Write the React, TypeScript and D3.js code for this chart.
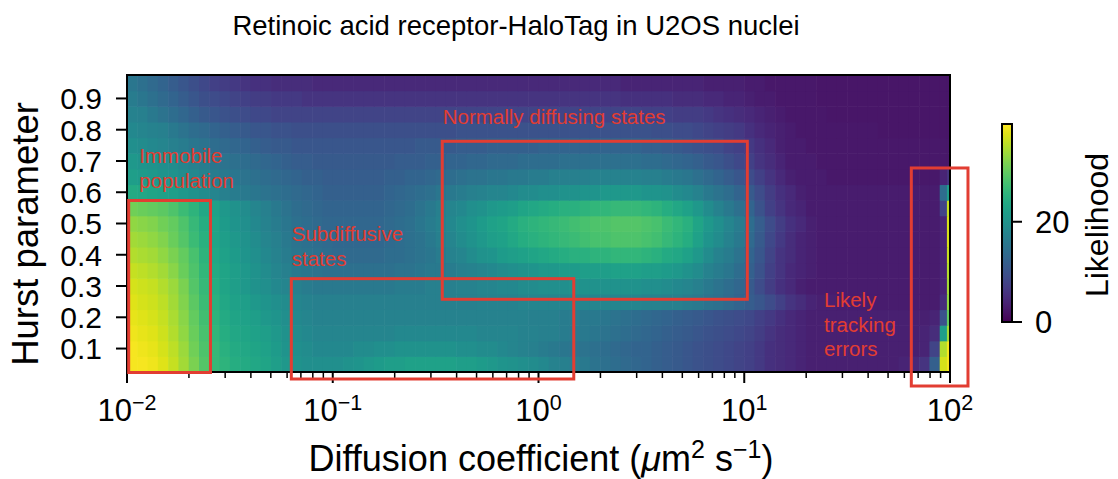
import React from 'react';
import * as d3 from 'd3';

// Hurst parameter of each heatmap row (bin width 0.05)
const hurst = [0.05, 0.1, 0.15, 0.2, 0.25, 0.3, 0.35, 0.4, 0.45, 0.5, 0.55, 0.6, 0.65, 0.7, 0.75, 0.8, 0.85, 0.9, 0.95];
const hurstHalfBin = 0.025;

// log10 of diffusion-coefficient bin edges (µm² s⁻¹); the last bin is split finer at the edge
const logDEdges = [...d3.range(80).map((i) => -2 + i * 0.05), 1.985, 2];

// Likelihood per (Hurst row, diffusion-coefficient column)
const rowH05 = [39, 39, 38.5, 37.5, 36, 34, 31.5, 29, 26.5, 25.5, 24.5, 24, 23.5, 23, 22, 21, 20, 19.5, 19.5, 19.5, 19.5, 20, 20.5, 21, 21.5, 22, 22, 22.5, 22.5, 22.5, 22.5, 22.5, 22, 22, 21.5, 21, 20.5, 20, 19.5, 19, 18.5, 17.5, 17, 16.5, 16, 15, 14.5, 14, 13.5, 13, 12.5, 12, 11.5, 11, 10.5, 10, 9.5, 9, 8.5, 8, 7.5, 6.5, 5.5, 5, 4.5, 4, 3.5, 3.5, 3.5, 3.5, 3.5, 3.5, 3.5, 3.5, 3.5, 4, 4.5, 6, 12, 37, 39];
const rowH10 = [39, 38.5, 38, 37, 35.5, 33.5, 31, 28.5, 26.5, 25, 24, 23.5, 23, 22.5, 21.5, 20.5, 19.5, 19, 18.5, 18.5, 18.5, 18.5, 19, 19, 19.5, 19.5, 20, 20, 20, 20, 20, 20, 19.5, 19.5, 19, 19, 18.5, 18, 17.5, 17, 16.5, 16, 15.5, 15, 15, 14.5, 14, 13.5, 13, 12.5, 12.5, 12, 11.5, 11, 10.5, 10, 9.5, 9, 8.5, 8, 7.5, 6.5, 5.5, 5, 4.5, 4, 3.5, 3.5, 3.5, 3.5, 3.5, 3.5, 3.5, 3.5, 3.5, 3.5, 3.5, 4, 8, 35, 39];
const rowH15 = [38.5, 38, 37.5, 36.5, 35, 33, 30.5, 28, 26, 24.5, 23.5, 23, 22.5, 22, 21, 20, 19, 18.5, 18, 18, 18, 18, 18, 18, 18, 18, 18.5, 18.5, 18.5, 18.5, 18.5, 18.5, 18.5, 18.5, 18, 18, 18, 18, 17.5, 17.5, 17, 17, 16.5, 16, 16, 15.5, 15, 14.5, 14, 13.5, 13, 12.5, 12, 11.5, 11, 10.5, 10, 9.5, 9, 8.5, 8, 7, 6, 5, 4.5, 4, 3.5, 3.5, 3.5, 3.5, 3.5, 3.5, 3.5, 3.5, 3.5, 3.5, 3.5, 4, 5, 22, 34];
const rowH20 = [38, 37.5, 37, 36, 34.5, 32.5, 30, 27.5, 25.5, 24, 23, 22.5, 22, 21, 20.5, 19.5, 18.5, 18, 17.5, 17.5, 17.5, 17.5, 17.5, 17.5, 17.5, 17.5, 17.5, 17.5, 17.5, 17.5, 17.5, 17.5, 17.5, 17.5, 17.5, 17.5, 17.5, 17.5, 17.5, 17, 17, 17, 16.5, 16.5, 16, 16, 15.5, 15, 14.5, 14, 13.5, 13, 12.5, 12, 11.5, 11, 10.5, 10, 9.5, 9, 8.5, 7.5, 6.5, 5.5, 4.5, 4, 3.5, 3.5, 3.5, 3.5, 3.5, 3.5, 3.5, 3.5, 3.5, 3.5, 3.5, 3.5, 4, 10, 30];
const rowH25 = [37.5, 37, 36.5, 35.5, 34, 32, 29.5, 27, 25, 23.5, 22.5, 22, 21, 20.5, 19.5, 19, 18, 17.5, 17, 17, 17, 17, 17, 17, 17, 17, 17, 17, 17, 17, 17, 17, 17, 17, 17.5, 17.5, 17.5, 17.5, 18, 18, 18, 18, 18, 18, 18, 18, 18, 18, 18, 18, 17.5, 17.5, 17, 17, 16.5, 16, 15, 14.5, 13.5, 12.5, 11.5, 10.5, 9, 7.5, 6, 5, 4, 3.5, 3.5, 3, 3, 3, 3, 3, 3, 3, 3, 3, 3, 5, 33];
const rowH30 = [37, 36.5, 36, 35, 33.5, 31.5, 29, 26.5, 24.5, 23, 22, 21, 20, 19.5, 18.5, 18, 17, 16.5, 16, 16, 16, 16, 16, 16, 16, 16, 16.5, 16.5, 16.5, 17, 17, 17, 17.5, 17.5, 18, 18, 18.5, 18.5, 19, 19, 19.5, 19.5, 19.5, 20, 20, 20, 20, 20, 20, 20, 19.5, 19.5, 19, 18.5, 18, 17, 16, 15, 14, 13, 11, 9, 7, 5.5, 4.5, 3.5, 3, 3, 3, 3, 3, 3, 3, 3, 3, 3, 3, 3, 3, 4, 34];
const rowH35 = [36, 35.5, 35, 34, 32.5, 30.5, 28.5, 26, 24, 23, 22, 21, 20, 19, 18, 17, 16, 15.5, 15, 14.5, 14.5, 14.5, 14.5, 14.5, 14.5, 14.5, 15, 15, 15.5, 16, 16, 16.5, 17, 17.5, 18, 18.5, 19, 19.5, 20, 20.5, 21, 21, 21.5, 21.5, 22, 22, 22, 22.5, 22.5, 22.5, 22, 22, 21.5, 21, 20, 19, 17.5, 16.5, 15.5, 14, 12, 10, 7.5, 6, 4.5, 4, 3.5, 3, 3, 3, 3, 3, 3, 3, 3, 3, 3, 3, 3, 4, 35];
const rowH40 = [35, 34.5, 34, 33, 31.5, 30, 28, 25.5, 23.5, 22.5, 21.5, 20.5, 19.5, 18.5, 17.5, 16.5, 15.5, 15, 14.5, 14, 13.5, 13.5, 13.5, 13.5, 13.5, 14, 14, 14.5, 15, 15.5, 16.5, 17.5, 18, 19, 20, 20.5, 21.5, 22, 22.5, 23, 23.5, 24, 24.5, 25, 25, 25.5, 25.5, 26, 26, 26, 25.5, 25, 24, 23.5, 22.5, 21, 19, 17.5, 16.5, 15, 12.5, 10.5, 8, 6, 5, 4, 3.5, 3, 3, 3, 3, 3, 3, 3, 3, 3, 3, 3, 3, 4, 36];
const rowH45 = [34, 33.5, 33, 32, 30.5, 29, 27, 25, 23, 22, 21, 20, 19, 18, 17, 16, 15, 14.5, 14, 13.5, 13, 13, 13, 13, 13, 13.5, 14, 14.5, 15, 16, 17, 18, 19, 20, 21, 22, 22.5, 23.5, 24.5, 25, 25.5, 26, 26.5, 27, 27.5, 28, 28, 28.5, 28.5, 28.5, 28, 27.5, 26.5, 25.5, 24.5, 22.5, 20.5, 19, 17.5, 16, 13.5, 11, 8.5, 6.5, 5, 4, 3.5, 3, 3, 3, 3, 3, 3, 3, 3, 3, 3, 3, 3, 4, 37];
const rowH50 = [33, 32.5, 32, 31, 30, 28.5, 26.5, 24.5, 23, 21.5, 20.5, 19.5, 18.5, 17.5, 16.5, 15.5, 14.5, 14, 13.5, 13, 13, 13, 13, 13, 13, 13.5, 14, 14.5, 15.5, 16.5, 17.5, 18.5, 19.5, 20.5, 21.5, 22.5, 23, 24, 25, 25.5, 26, 26.5, 27, 27.5, 28, 28.5, 28.5, 29, 29, 29, 28.5, 28, 27, 26, 25, 23, 21, 19.5, 18, 16.5, 14, 11.5, 9, 7, 5.5, 4.5, 3.5, 3, 3, 3, 3, 3, 3, 3, 3, 3, 3, 3, 3, 4, 37];
const rowH55 = [31, 30.5, 30, 29.5, 28.5, 27, 25.5, 23.5, 22.5, 21, 20, 19, 18, 17, 16, 15, 14, 13.5, 13, 12.5, 12.5, 12.5, 12.5, 12.5, 12.5, 13, 13.5, 14, 15, 16, 17, 18, 18.5, 19.5, 20, 21, 21.5, 22, 23, 23.5, 24, 24.5, 25, 25, 25.5, 26, 26, 26.5, 26.5, 26.5, 26, 25.5, 24.5, 23.5, 22.5, 21, 19, 17.5, 16, 14.5, 12.5, 10, 7.5, 6, 4.5, 4, 3, 3, 3, 3, 3, 3, 3, 3, 3, 3, 3, 3, 3, 8, 36];
const rowH60 = [24, 23.5, 23, 22.5, 22, 21, 20, 19, 18, 17, 16.5, 16, 15.5, 15, 14.5, 14, 13.5, 13, 12.5, 12, 12, 12, 12, 12, 12, 12.5, 13, 13.5, 14, 14.5, 15.5, 16, 16.5, 17, 17.5, 18, 18, 18.5, 19, 19, 19.5, 19.5, 20, 20, 20.5, 20.5, 21, 21, 21, 21, 20.5, 20.5, 20, 19, 18.5, 17.5, 16, 15, 14, 12.5, 11, 9, 7, 5.5, 4.5, 3.5, 3, 3, 3, 3, 3, 3, 3, 3, 3, 3, 3, 3, 3, 14, 22];
const rowH65 = [22, 21.5, 21, 20.5, 20, 19, 18.5, 17.5, 16.5, 16, 15.5, 15, 14.5, 14, 13.5, 13, 12.5, 12, 12, 11.5, 11.5, 11.5, 11.5, 11.5, 11.5, 12, 12, 12.5, 12.5, 13, 13.5, 14, 14.5, 15, 15, 15.5, 15.5, 16, 16, 16.5, 16.5, 17, 17, 17, 17, 17.5, 17.5, 17.5, 17.5, 17.5, 17, 17, 16.5, 16, 15.5, 14.5, 13.5, 12.5, 11.5, 10.5, 9, 7.5, 6, 4.5, 3.5, 3, 3, 3, 2.5, 2.5, 2.5, 2.5, 2.5, 2.5, 2.5, 2.5, 2.5, 2.5, 2.5, 4, 6];
const rowH70 = [21, 20.5, 20, 19.5, 19, 18, 17, 16.5, 15.5, 15, 14.5, 14, 13.5, 13, 12.5, 12, 11.5, 11.5, 11, 11, 11, 11, 11, 11, 11, 11, 11.5, 11.5, 11.5, 12, 12, 12.5, 12.5, 13, 13, 13.5, 13.5, 13.5, 14, 14, 14, 14, 14.5, 14.5, 14.5, 14.5, 14.5, 14.5, 14.5, 14.5, 14, 14, 13.5, 13, 12.5, 12, 11, 10.5, 9.5, 8.5, 7.5, 6, 5, 4, 3, 3, 3, 2.5, 2.5, 2.5, 2.5, 2.5, 2.5, 2.5, 2.5, 2.5, 2.5, 2.5, 2.5, 2.5, 2.5];
const rowH75 = [19.5, 19, 18.5, 18, 17, 16.5, 15.5, 15, 14, 13.5, 13, 12.5, 12, 11.5, 11, 11, 10.5, 10.5, 10.5, 10.5, 10.5, 10.5, 10.5, 10.5, 10.5, 10.5, 10.5, 10.5, 11, 11, 11, 11, 11.5, 11.5, 11.5, 12, 12, 12, 12, 12, 12.5, 12.5, 12.5, 12.5, 12.5, 12.5, 12.5, 12.5, 12.5, 12.5, 12, 12, 11.5, 11, 10.5, 10, 9.5, 9, 8, 7.5, 6.5, 5.5, 4.5, 3.5, 3, 3, 2.5, 2.5, 2.5, 2.5, 2.5, 2.5, 2.5, 2.5, 2.5, 2.5, 2.5, 2.5, 2.5, 2.5, 2.5];
const rowH80 = [18.5, 18, 17.5, 17, 16, 15, 14, 13.5, 12.5, 12, 11.5, 11, 10.5, 10.5, 10, 10, 9.5, 9.5, 9.5, 9.5, 9.5, 9.5, 9.5, 9.5, 9.5, 9.5, 9.5, 9.5, 9.5, 9.5, 9.5, 9.5, 10, 10, 10, 10, 10, 10, 10, 10, 10, 10, 10, 10, 10, 10, 10, 10, 10, 10, 10, 9.5, 9.5, 9, 9, 8.5, 8, 7.5, 7, 6.5, 5.5, 4.5, 4, 3.5, 3, 2.5, 2.5, 2.5, 2.5, 2.5, 2.5, 2.5, 2.5, 2.2, 2.2, 2.2, 2.2, 2.2, 2.2, 2.2, 2.2];
const rowH85 = [17.5, 17, 16, 15, 14, 13, 12, 11, 10.5, 10, 9.5, 9, 8.5, 8.5, 8, 8, 8, 8, 8, 8, 8, 8, 8, 8, 8, 8, 8, 8, 8, 8, 8, 8, 8, 8, 8, 8, 8, 8, 8, 8, 8, 8, 8, 8, 8, 8, 8, 8, 8, 8, 7.5, 7.5, 7.5, 7, 7, 7, 6.5, 6, 5.5, 5, 4.5, 4, 3.5, 3, 2.5, 2.5, 2.5, 2.5, 2.2, 2.2, 2.2, 2.2, 2.2, 2.2, 2.2, 2.2, 2.2, 2.2, 2.2, 2.2, 2.2];
const rowH90 = [16.5, 15.5, 14.5, 13.5, 12.5, 11.5, 10.5, 9.5, 9, 8.5, 8, 7.5, 7, 7, 6.5, 6.5, 6.5, 6, 6, 6, 6, 6, 6, 6, 6, 6, 6, 6, 6, 6, 6, 6, 6, 6, 6, 6, 6, 6, 6, 6, 6, 6, 6, 6, 6, 6, 6, 6, 5.5, 5.5, 5.5, 5.5, 5.5, 5, 5, 5, 4.5, 4.5, 4, 4, 3.5, 3, 3, 2.5, 2.5, 2.5, 2.5, 2.2, 2.2, 2.2, 2.2, 2.2, 2.2, 2.2, 2.2, 2.2, 2.2, 2.2, 2.2, 2.2, 2.2];
const rowH95 = [15.5, 14.5, 13.5, 12.5, 11.5, 10.5, 9.5, 8.5, 7.5, 7, 6.5, 6, 5.5, 5.5, 5, 5, 5, 5, 4.5, 4.5, 4.5, 4.5, 4.5, 4.5, 4.5, 4.5, 4.5, 4.5, 4.5, 4.5, 4.5, 4.5, 4.5, 4.5, 4.5, 4.5, 4.5, 4.5, 4.5, 4.5, 4.5, 4.5, 4.5, 4.5, 4.5, 4.5, 4.5, 4.5, 4, 4, 4, 4, 4, 4, 4, 4, 3.5, 3.5, 3.5, 3.5, 3, 3, 2.5, 2.5, 2.5, 2.5, 2.5, 2.2, 2.2, 2.2, 2.2, 2.2, 2.2, 2.2, 2.2, 2.2, 2.2, 2.2, 2.2, 2.2, 2.2];

const likelihoodByHurst = [rowH05, rowH10, rowH15, rowH20, rowH25, rowH30, rowH35, rowH40, rowH45, rowH50, rowH55, rowH60, rowH65, rowH70, rowH75, rowH80, rowH85, rowH90, rowH95];

const likelihoodMax = 39.5;
const yTicks = [0.1, 0.2, 0.3, 0.4, 0.5, 0.6, 0.7, 0.8, 0.9];
const xMajorTicks = [0.01, 0.1, 1, 10, 100];
const colorbarTicks = [0, 20];

// Annotated regions (diffusion coefficient, Hurst parameter)
const annotationBoxes = [
  { d0: 0.01019, d1: 0.02545, h0: 0.0234, h1: 0.5736 },
  { d0: 0.0629, d1: 1.484, h0: 0.0026, h1: 0.3235 },
  { d0: 0.3406, d1: 10.35, h0: 0.2576, h1: 0.763 },
  { d0: 64.86, d1: 122.3, h0: -0.0198, h1: 0.6776 },
];
const annotationLabels = [
  { lines: ['Immobile', 'population'], d: 0.01148, h: 0.6926 },
  { lines: ['Subdiffusive', 'states'], d: 0.06318, h: 0.4425 },
  { lines: ['Normally diffusing states'], d: 0.3422, h: 0.8184 },
  { lines: ['Likely', 'tracking', 'errors'], d: 24.42, h: 0.232 },
];

const FONT = '"Liberation Sans", Arial, Helvetica, sans-serif';
const RED = '#e23d32';

export default function App() {
  const width = 1118;
  const height = 479;
  const plot = { left: 127, right: 950, top: 75, bottom: 372 };

  const x = d3.scaleLog().domain([0.01, 100]).range([plot.left, plot.right]);
  const y = d3.scaleLinear().domain([0.025, 0.975]).range([plot.bottom, plot.top]);
  const color = d3.scaleSequential(d3.interpolateViridis).domain([0, likelihoodMax]);

  const cb = { x: 1002, w: 10, top: 124, bottom: 322 };
  const cbScale = d3.scaleLinear().domain([0, likelihoodMax]).range([cb.bottom, cb.top]);

  const cells: React.ReactElement[] = [];
  likelihoodByHurst.forEach((row, i) => {
    const h = hurst[i];
    const y0 = y(h + hurstHalfBin);
    const y1 = y(h - hurstHalfBin);
    row.forEach((v, j) => {
      const x0 = x(Math.pow(10, logDEdges[j]));
      const x1 = x(Math.pow(10, logDEdges[j + 1]));
      cells.push(
        <rect key={`${i}-${j}`} x={x0} y={y0} width={x1 - x0 + 0.6} height={y1 - y0 + 0.6} fill={color(v)} />
      );
    });
  });

  const minorTicks = x.ticks().filter((t) => {
    const l = Math.log10(t);
    return Math.abs(l - Math.round(l)) > 1e-6;
  });

  const gradStops = d3.range(0, 1.0001, 0.05);
  const expLabel = (t: number) => {
    const e = Math.round(Math.log10(t));
    return e < 0 ? `\u2212${Math.abs(e)}` : `${e}`;
  };

  return (
    <svg width={width} height={height} style={{ position: 'absolute', left: 0, top: 0, background: '#fff' }} fontFamily={FONT}>
      <defs>
        <clipPath id="plotClip">
          <rect x={plot.left} y={plot.top} width={plot.right - plot.left} height={plot.bottom - plot.top} />
        </clipPath>
        <linearGradient id="viridisBar" x1="0" y1="1" x2="0" y2="0">
          {gradStops.map((t) => (
            <stop key={t} offset={t} stopColor={d3.interpolateViridis(t)} />
          ))}
        </linearGradient>
      </defs>
      <rect x={0} y={0} width={width} height={height} fill="#fff" />

      <text x={516} y={35} textAnchor="middle" fontSize={27.5} fill="#000">
        Retinoic acid receptor-HaloTag in U2OS nuclei
      </text>

      <g clipPath="url(#plotClip)">{cells}</g>

      {/* y axis */}
      {yTicks.map((t) => (
        <g key={t}>
          <line x1={plot.left - 11} x2={plot.left} y1={y(t)} y2={y(t)} stroke="#000" strokeWidth={2} />
          <text x={plot.left - 25} y={y(t)} dy="0.36em" textAnchor="end" fontSize={30}>
            {t.toFixed(1)}
          </text>
        </g>
      ))}
      <text transform={`translate(38,234) rotate(-90)`} textAnchor="middle" fontSize={36.5}>
        Hurst parameter
      </text>

      {/* x axis */}
      {minorTicks.map((t) => (
        <line key={t} x1={x(t)} x2={x(t)} y1={plot.bottom} y2={plot.bottom + 6} stroke="#000" strokeWidth={1.5} />
      ))}
      {xMajorTicks.map((t) => (
        <g key={t}>
          <line x1={x(t)} x2={x(t)} y1={plot.bottom} y2={plot.bottom + 11} stroke="#000" strokeWidth={2} />
          <text x={x(t)} y={421} textAnchor="middle" fontSize={31}>
            10
            <tspan dy={-11} fontSize={21.5}>
              {expLabel(t)}
            </tspan>
          </text>
        </g>
      ))}
      <text x={541} y={471} textAnchor="middle" fontSize={36}>
        Diffusion coefficient (<tspan fontStyle="italic">μ</tspan>m
        <tspan dy={-13} fontSize={25}>2</tspan>
        <tspan dy={13}> s</tspan>
        <tspan dy={-13} fontSize={25}>−1</tspan>
        <tspan dy={13}>)</tspan>
      </text>

      {/* plot frame */}
      <rect x={plot.left} y={plot.top} width={plot.right - plot.left} height={plot.bottom - plot.top} fill="none" stroke="#000" strokeWidth={2} />

      {/* colorbar */}
      <rect x={cb.x} y={cb.top} width={cb.w} height={cb.bottom - cb.top} fill="url(#viridisBar)" stroke="#000" strokeWidth={2} />
      {colorbarTicks.map((t) => (
        <g key={t}>
          <line x1={cb.x + cb.w} x2={cb.x + cb.w + 10} y1={cbScale(t)} y2={cbScale(t)} stroke="#000" strokeWidth={2} />
          <text x={1035} y={cbScale(t)} dy="0.36em" fontSize={31}>
            {t}
          </text>
        </g>
      ))}
      <text transform={`translate(1108,225) rotate(-90)`} textAnchor="middle" fontSize={32}>
        Likelihood
      </text>

      {/* annotations */}
      {annotationBoxes.map((b, i) => (
        <rect
          key={i}
          x={x(b.d0)}
          y={y(b.h1)}
          width={x(b.d1) - x(b.d0)}
          height={y(b.h0) - y(b.h1)}
          fill="none"
          stroke={RED}
          strokeWidth={3}
        />
      ))}
      {annotationLabels.map((a, i) => (
        <text key={i} x={x(a.d)} y={y(a.h)} fontSize={20.5} fill={RED}>
          {a.lines.map((ln, k) => (
            <tspan key={k} x={x(a.d)} dy={k === 0 ? 0 : 24.5}>
              {ln}
            </tspan>
          ))}
        </text>
      ))}
    </svg>
  );
}
